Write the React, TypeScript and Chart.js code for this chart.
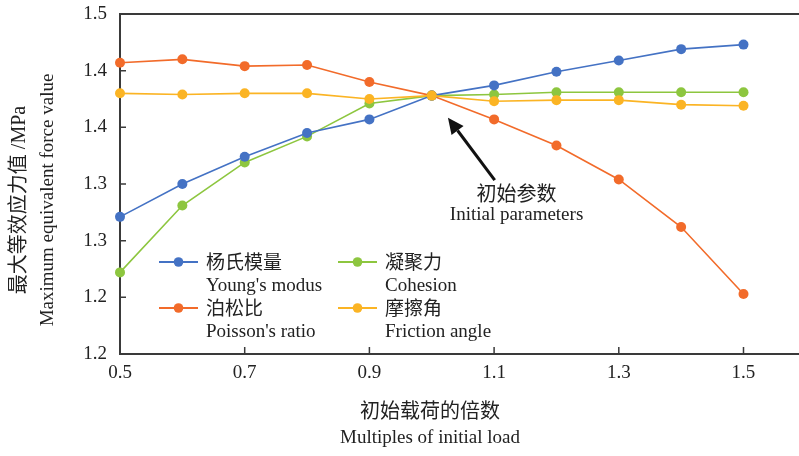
import { useEffect, useRef } from "react";
import { Chart, registerables } from "chart.js";

Chart.register(...registerables);

// ---------- data ----------
const loadMultiples = [0.5, 0.6, 0.7, 0.8, 0.9, 1.0, 1.1, 1.2, 1.3, 1.4, 1.5];
const youngsModulus = [1.321, 1.350, 1.374, 1.395, 1.407, 1.428, 1.437, 1.449, 1.459, 1.469, 1.473];
const cohesion = [1.272, 1.331, 1.369, 1.392, 1.421, 1.428, 1.429, 1.431, 1.431, 1.431, 1.431];
const poissonsRatio = [1.457, 1.460, 1.454, 1.455, 1.440, 1.428, 1.407, 1.384, 1.354, 1.312, 1.253];
const frictionAngle = [1.430, 1.429, 1.430, 1.430, 1.425, 1.428, 1.423, 1.424, 1.424, 1.420, 1.419];

const seriesValues = [youngsModulus, cohesion, poissonsRatio, frictionAngle];
const seriesNamesZh = ["杨氏模量", "凝聚力", "泊松比", "摩擦角"];
const seriesNamesEn = ["Young's modus", "Cohesion", "Poisson's ratio", "Friction angle"];
const seriesColors = ["#4472C4", "#8DC63F", "#F26B2A", "#FBB424"];

const xTickValues = [0.5, 0.7, 0.9, 1.1, 1.3, 1.5];
const xTickLabels = ["0.5", "0.7", "0.9", "1.1", "1.3", "1.5"];
const yTickValues = [1.2, 1.25, 1.3, 1.35, 1.4, 1.45, 1.5];
const yTickLabels = ["1.2", "1.2", "1.3", "1.3", "1.4", "1.4", "1.5"];

const xTitleZh = "初始载荷的倍数";
const xTitleEn = "Multiples of initial load";
const yTitleZh = "最大等效应力值 /MPa";
const yTitleEn = "Maximum equivalent force value";

const annotationZh = "初始参数";
const annotationEn = "Initial parameters";
// arrow tip / tail and label anchor in data units
const arrowTip = { x: 1.026, y: 1.4085 };
const arrowTail = { x: 1.101, y: 1.3535 };
const annotationLabelAt = { x: 1.136, y: 1.342 };

const SERIF = '"Liberation Serif", "Times New Roman", serif';
const MIXED = '"Liberation Serif", "Noto Sans CJK SC", serif';
const CJK = '"Noto Sans CJK SC", sans-serif';
const TEXT = "#222";

const decorPlugin = {
  id: "decor",
  beforeDatasetsDraw(chart: any) {
    const { ctx, chartArea, scales } = chart;
    const { left, top, bottom } = chartArea;
    const right = chart.width;
    const x = scales.x;
    const y = scales.y;
    ctx.save();
    ctx.strokeStyle = "#3a3a3a";
    ctx.lineWidth = 2;
    ctx.beginPath();
    ctx.moveTo(right, top);
    ctx.lineTo(left, top);
    ctx.lineTo(left, bottom);
    ctx.lineTo(right, bottom);
    ctx.stroke();
    ctx.lineWidth = 1.5;
    ctx.beginPath();
    xTickValues.forEach((v) => {
      const px = x.getPixelForValue(v);
      ctx.moveTo(px, bottom);
      ctx.lineTo(px, bottom - 7);
    });
    yTickValues.forEach((v) => {
      const py = y.getPixelForValue(v);
      ctx.moveTo(left, py);
      ctx.lineTo(left + 6, py);
    });
    ctx.stroke();
    ctx.restore();
  },
  afterDraw(chart: any) {
    const { ctx, chartArea, scales } = chart;
    const { left, top, bottom } = chartArea;
    const x = scales.x;
    const y = scales.y;
    ctx.save();
    ctx.fillStyle = TEXT;
    ctx.textBaseline = "middle";

    // legend
    const cols = [left + 39, left + 218];
    const rows = [top + 248, top + 294];
    seriesNamesZh.forEach((zh, i) => {
      const lx = cols[i % 2];
      const ly = rows[Math.floor(i / 2)];
      ctx.strokeStyle = seriesColors[i];
      ctx.lineWidth = 2;
      ctx.beginPath();
      ctx.moveTo(lx, ly);
      ctx.lineTo(lx + 39, ly);
      ctx.stroke();
      ctx.fillStyle = seriesColors[i];
      ctx.beginPath();
      ctx.arc(lx + 19.5, ly, 4.8, 0, Math.PI * 2);
      ctx.fill();
      ctx.fillStyle = TEXT;
      ctx.textAlign = "left";
      ctx.font = `19px ${CJK}`;
      ctx.fillText(zh, lx + 47, ly);
      ctx.font = `19px ${SERIF}`;
      ctx.fillText(seriesNamesEn[i], lx + 47, ly + 24);
    });

    // annotation arrow
    const tx = x.getPixelForValue(arrowTip.x);
    const ty = y.getPixelForValue(arrowTip.y);
    const sx = x.getPixelForValue(arrowTail.x);
    const sy = y.getPixelForValue(arrowTail.y);
    const ang = Math.atan2(ty - sy, tx - sx);
    const headLen = 16;
    const headW = 7.5;
    const bx = tx - headLen * Math.cos(ang);
    const by = ty - headLen * Math.sin(ang);
    ctx.strokeStyle = "#111";
    ctx.lineWidth = 3;
    ctx.beginPath();
    ctx.moveTo(sx, sy);
    ctx.lineTo(bx, by);
    ctx.stroke();
    ctx.fillStyle = "#111";
    ctx.beginPath();
    ctx.moveTo(tx, ty);
    ctx.lineTo(bx + headW * Math.sin(ang), by - headW * Math.cos(ang));
    ctx.lineTo(bx - headW * Math.sin(ang), by + headW * Math.cos(ang));
    ctx.closePath();
    ctx.fill();

    const ax = x.getPixelForValue(annotationLabelAt.x);
    const ay = y.getPixelForValue(annotationLabelAt.y);
    ctx.fillStyle = TEXT;
    ctx.textAlign = "center";
    ctx.font = `20px ${CJK}`;
    ctx.fillText(annotationZh, ax, ay);
    ctx.font = `19px ${SERIF}`;
    ctx.fillText(annotationEn, ax, ay + 22);

    // axis titles
    ctx.font = `20px ${CJK}`;
    ctx.fillText(xTitleZh, 430, bottom + 56);
    ctx.font = `19px ${SERIF}`;
    ctx.fillText(xTitleEn, 430, bottom + 84);

    ctx.save();
    ctx.translate(20, 200);
    ctx.rotate(-Math.PI / 2);
    ctx.font = `20px ${MIXED}`;
    ctx.fillText(yTitleZh, 0, 0);
    ctx.restore();
    ctx.save();
    ctx.translate(48, 200);
    ctx.rotate(-Math.PI / 2);
    ctx.font = `19px ${SERIF}`;
    ctx.fillText(yTitleEn, 0, 0);
    ctx.restore();

    ctx.restore();
  },
};

export default function App() {
  const canvasRef = useRef<HTMLCanvasElement | null>(null);

  useEffect(() => {
    document.body.style.margin = "0";
    const canvas = canvasRef.current;
    if (!canvas) return;
    const datasets = seriesValues.map((vals, i) => ({
      label: seriesNamesZh[i],
      data: loadMultiples.map((xv, j) => ({ x: xv, y: vals[j] })),
      borderColor: seriesColors[i],
      backgroundColor: seriesColors[i],
      pointBackgroundColor: seriesColors[i],
      pointBorderColor: seriesColors[i],
      borderWidth: 1.6,
      pointRadius: 5,
      pointBorderWidth: 0,
      tension: 0,
      clip: false as any,
      order: i === 3 ? 0 : 1,
    }));

    const chart = new Chart(canvas, {
      type: "line",
      data: { datasets },
      plugins: [decorPlugin],
      options: {
        responsive: false,
        animation: false,
        devicePixelRatio: 1,
        layout: { padding: { left: 0, right: 0, top: 14, bottom: 0 } },
        plugins: {
          legend: { display: false },
          tooltip: { enabled: false },
        },
        scales: {
          x: {
            type: "linear",
            min: 0.5,
            max: 1.581,
            grid: { display: false, drawTicks: false },
            border: { display: false },
            afterFit: (s: any) => {
              s.height = 102;
              s.paddingLeft = 0;
              s.paddingRight = 0;
            },
            afterBuildTicks: (s: any) => {
              s.ticks = xTickValues.map((v) => ({ value: v }));
            },
            ticks: {
              padding: 8,
              color: TEXT,
              font: { family: SERIF, size: 19 },
              maxRotation: 0,
              autoSkip: false,
              callback: (_v: any, i: number) => xTickLabels[i],
            },
          },
          y: {
            type: "linear",
            min: 1.2,
            max: 1.5,
            grid: { display: false, drawTicks: false },
            border: { display: false },
            afterFit: (s: any) => {
              s.width = 120;
              s.paddingTop = 0;
              s.paddingBottom = 0;
            },
            afterBuildTicks: (s: any) => {
              s.ticks = yTickValues.map((v) => ({ value: v }));
            },
            ticks: {
              padding: 13,
              color: TEXT,
              font: { family: SERIF, size: 19 },
              autoSkip: false,
              callback: (_v: any, i: number) => yTickLabels[i],
            },
          },
        },
      },
    });
    return () => chart.destroy();
  }, []);

  return (
    <div style={{ width: 799, height: 456, background: "#fff", overflow: "hidden" }}>
      <canvas ref={canvasRef} width={799} height={456} style={{ display: "block" }} />
    </div>
  );
}
